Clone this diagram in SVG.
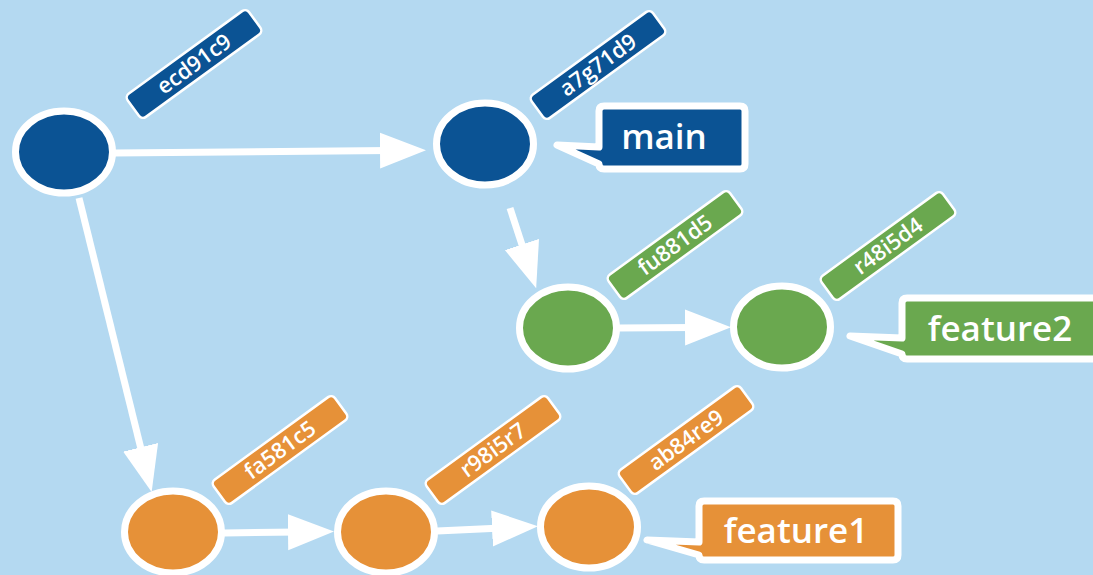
<svg xmlns="http://www.w3.org/2000/svg" width="1093" height="575" viewBox="0 0 1093 575">
<style>
.bg{fill:#b4d9f1}
.node{stroke:#fff;stroke-width:7}
.blue{fill:#0b5394}
.green{fill:#6aa84f}
.orange{fill:#e69138}
.tag{stroke:#fff;stroke-width:2.5}
.tagt{font-family:"Open Sans",sans-serif;font-weight:600;font-size:22px;fill:#fff;text-anchor:middle}
.call{stroke:#fff;stroke-width:7;stroke-linejoin:round}
.callt{font-family:"Open Sans",sans-serif;font-weight:600;font-size:35px;fill:#fff;text-anchor:middle}
.edge{stroke:#fff;stroke-width:7;fill:none;marker-end:url(#ah)}
</style>
<defs>
<marker id="ah" markerUnits="userSpaceOnUse" markerWidth="48" markerHeight="38" viewBox="0 0 48 38" refX="10" refY="19" orient="auto">
<path d="M0,1 L46,19 L0,37 Z" fill="#fff"/>
</marker>
</defs>
<rect class="bg" x="0" y="0" width="1093" height="575"/>
<g id="connectors">
<line class="edge" x1="114" y1="153" x2="390" y2="150.5"/>
<line class="edge" x1="79" y1="198" x2="143" y2="457"/>
<line class="edge" x1="510" y1="208" x2="525" y2="254"/>
<line class="edge" x1="619" y1="328" x2="695" y2="327.5"/>
<line class="edge" x1="224" y1="533" x2="298" y2="532"/>
<line class="edge" x1="437" y1="531" x2="502" y2="528"/>
</g>
<g id="n-ecd91c9">
<ellipse class="node blue" cx="64" cy="152" rx="48.5" ry="41"/>
<g transform="translate(194,64) rotate(-36)"><rect class="tag blue" x="-75" y="-14.5" width="150" height="29" rx="5"/><text class="tagt" x="0" y="7.5">ecd91c9</text></g>
</g>
<g id="n-a7g71d9">
<ellipse class="node blue" cx="485" cy="144" rx="48.5" ry="41"/>
<g transform="translate(598,65) rotate(-36)"><rect class="tag blue" x="-75" y="-14.5" width="150" height="29" rx="5"/><text class="tagt" x="0" y="7.5">a7g71d9</text></g>
</g>
<g id="main">
<path class="call blue" d="M557,145 L599,147 L599,111 Q599,106 604,106 L740,106 Q745,106 745,111 L745,164 Q745,169 740,169 L604,169 Q599,169 599,164 Z"/>
<text class="callt" x="664" y="149">main</text>
</g>
<g id="n-fu881d5">
<ellipse class="node green" cx="568" cy="328" rx="48.5" ry="41"/>
<g transform="translate(675,245) rotate(-36)"><rect class="tag green" x="-75" y="-14.5" width="150" height="29" rx="5"/><text class="tagt" x="0" y="7.5">fu881d5</text></g>
</g>
<g id="n-r48i5d4">
<ellipse class="node green" cx="782" cy="327" rx="48.5" ry="41"/>
<g transform="translate(888,246) rotate(-36)"><rect class="tag green" x="-75" y="-14.5" width="150" height="29" rx="5"/><text class="tagt" x="0" y="7.5">r48i5d4</text></g>
</g>
<g id="feature2">
<path class="call green" d="M850,336 L902,338 L902,303 Q902,298 907,298 L1100,298 L1100,359 L907,359 Q902,359 902,354 Z"/>
<text class="callt" x="1000" y="341">feature2</text>
</g>
<g id="n-fa581c5">
<ellipse class="node orange" cx="173" cy="532" rx="48.5" ry="41"/>
<g transform="translate(280,450) rotate(-36)"><rect class="tag orange" x="-75" y="-14.5" width="150" height="29" rx="5"/><text class="tagt" x="0" y="7.5">fa581c5</text></g>
</g>
<g id="n-r98i5r7">
<ellipse class="node orange" cx="386" cy="532" rx="48.5" ry="41"/>
<g transform="translate(493,450) rotate(-36)"><rect class="tag orange" x="-75" y="-14.5" width="150" height="29" rx="5"/><text class="tagt" x="0" y="7.5">r98i5r7</text></g>
</g>
<g id="n-ab84re9">
<ellipse class="node orange" cx="589" cy="527" rx="48.5" ry="41"/>
<g transform="translate(686,440) rotate(-36)"><rect class="tag orange" x="-75" y="-14.5" width="150" height="29" rx="5"/><text class="tagt" x="0" y="7.5">ab84re9</text></g>
</g>
<g id="feature1">
<path class="call orange" d="M647,540 L699,542 L699,506 Q699,501 704,501 L893,501 Q898,501 898,506 L898,555 Q898,560 893,560 L704,560 Q699,560 699,555 Z"/>
<text class="callt" x="796" y="543">feature1</text>
</g>
</svg>
